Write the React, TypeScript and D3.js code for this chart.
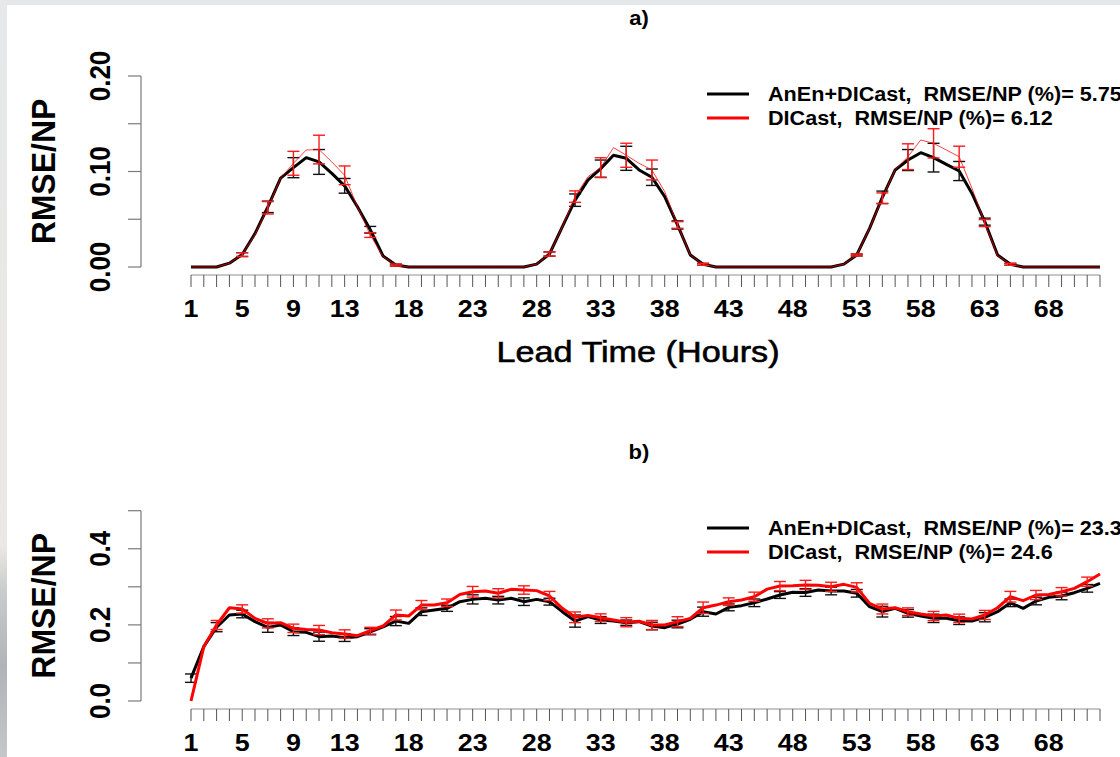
import React from 'react';
import * as d3 from 'd3';

const leadTimes = d3.range(1, 73);
const xTickLabels = [1, 5, 9, 13, 18, 23, 28, 33, 38, 43, 48, 53, 58, 63, 68];
const seriesNames = ['AnEn+DICast', 'DICast'];
const scoresA = ['5.75', '6.12'];
const scoresB = ['23.3', '24.6'];

// Panel a) values per lead time (1..72)
const anenA = [
  0, 0, 0, 0.004, 0.013, 0.035, 0.063, 0.093, 0.104, 0.1145, 0.110, 0.098, 0.085, 0.063, 0.039, 0.0115, 0.002,
  0, 0, 0, 0, 0, 0, 0, 0, 0, 0,
  0.003, 0.0136, 0.042, 0.070, 0.091, 0.103, 0.117, 0.1138, 0.1016, 0.094, 0.0737, 0.044, 0.0126, 0.0028,
  0, 0, 0, 0, 0, 0, 0, 0, 0, 0,
  0.003, 0.0126, 0.0405, 0.073, 0.1016, 0.112, 0.1197, 0.1145, 0.1075, 0.1005, 0.077, 0.0475, 0.0126, 0.0028,
  0, 0, 0, 0, 0, 0, 0,
];
const dicastA = [
  0, 0, 0, 0.004, 0.013, 0.034, 0.062, 0.093, 0.1086, 0.1225, 0.123, 0.110, 0.096, 0.063, 0.0335, 0.011, 0.002,
  0, 0, 0, 0, 0, 0, 0, 0, 0, 0,
  0.003, 0.0136, 0.042, 0.0737, 0.0945, 0.104, 0.125, 0.117, 0.1086, 0.1016, 0.0789, 0.044, 0.0126, 0.0028,
  0, 0, 0, 0, 0, 0, 0, 0, 0, 0,
  0.003, 0.0126, 0.0405, 0.072, 0.102, 0.1155, 0.133, 0.1295, 0.1225, 0.1155, 0.0824, 0.046, 0.012, 0.0028,
  0, 0, 0, 0, 0, 0, 0,
];
// error half-widths at odd lead times 1,3,...,71
const anenErrA = [
  0, 0, 0.002, 0.006, 0.0105, 0.013, 0.0077, 0.0035, 0.001, 0, 0, 0, 0, 0,
  0.0022, 0.0065, 0.009, 0.0126, 0.0086, 0.0043, 0.001, 0, 0, 0, 0, 0,
  0.001, 0.0065, 0.011, 0.015, 0.010, 0.0037, 0.001, 0, 0, 0,
];
const dicastErrA = [
  0, 0, 0.002, 0.0065, 0.0125, 0.015, 0.0098, 0.0025, 0.001, 0, 0, 0, 0, 0,
  0.0022, 0.006, 0.0104, 0.0126, 0.0104, 0.0035, 0.001, 0, 0, 0, 0, 0,
  0.001, 0.0056, 0.0135, 0.0153, 0.011, 0.0037, 0.001, 0, 0, 0,
];

// Panel b) values
const anenB = [
  0.060, 0.143, 0.194, 0.226, 0.2286, 0.2085, 0.1935, 0.1997, 0.182, 0.1805, 0.169, 0.1708, 0.1665, 0.169, 0.182, 0.195, 0.210, 0.204, 0.2347, 0.239, 0.2435, 0.261, 0.267,
  0.270, 0.265, 0.270, 0.261, 0.267, 0.261, 0.2347, 0.210, 0.2216, 0.2128, 0.210, 0.2058, 0.2085, 0.197, 0.1927, 0.2023, 0.2146, 0.2347, 0.2286, 0.246, 0.2505, 0.258, 0.268,
  0.2785, 0.2855, 0.285, 0.2916, 0.289, 0.289, 0.283, 0.248, 0.2347, 0.2435, 0.2303, 0.2233, 0.2172, 0.2172, 0.211, 0.210, 0.22, 0.2347, 0.258, 0.2435, 0.2627, 0.2724, 0.276, 0.2846, 0.296, 0.309,
];
const dicastB = [
  0.0, 0.143, 0.1997, 0.245, 0.2417, 0.217, 0.204, 0.2057, 0.191, 0.188, 0.1865, 0.1795, 0.176, 0.1716, 0.1847, 0.197, 0.226, 0.2233, 0.252, 0.252, 0.258, 0.280, 0.287,
  0.289, 0.283, 0.2934, 0.2916, 0.290, 0.276, 0.2435, 0.22, 0.225, 0.219, 0.2128, 0.207, 0.2094, 0.1997, 0.1997, 0.2085, 0.2172, 0.245, 0.252, 0.261, 0.2654, 0.274, 0.294,
  0.302, 0.303, 0.305, 0.304, 0.300, 0.3065, 0.2986, 0.2566, 0.2417, 0.245, 0.2347, 0.2286, 0.2233, 0.226, 0.2172, 0.2155, 0.226, 0.245, 0.274, 0.2636, 0.2785, 0.280, 0.287, 0.296, 0.3135, 0.3337,
];
const anenErrB = [
  0.011, 0.012, 0.010, 0.013, 0.010, 0.012, 0.010, 0.008, 0.012, 0.010, 0.008, 0.012, 0.010, 0.010, 0.009, 0.016, 0.009, 0.007,
  0.010, 0.010, 0.012, 0.009, 0.010, 0.009, 0.010, 0.010, 0.010, 0.014, 0.010, 0.011, 0.010, 0.012, 0.010, 0.010, 0.010, 0.010,
];
const dicastErrB = [
  0, 0.012, 0.011, 0.012, 0.011, 0.012, 0.011, 0.009, 0.013, 0.012, 0.010, 0.014, 0.012, 0.011, 0.012, 0.014, 0.010, 0.012,
  0.012, 0.013, 0.015, 0.010, 0.012, 0.012, 0.012, 0.012, 0.012, 0.013, 0.010, 0.012, 0.011, 0.012, 0.014, 0.012, 0.011, 0.012,
];

const yTicksA = [0, 0.05, 0.1, 0.15, 0.2];
const yLabelsA = [0, 0.1, 0.2];
const yTicksB = [0, 0.1, 0.2, 0.3, 0.4, 0.5];
const yLabelsB = [0, 0.2, 0.4];

const FONT = '"Liberation Sans", Arial, Helvetica, sans-serif';

const x = d3.scaleLinear().domain([1, 72]).range([191, 1100]);

function SText({ x: tx, y: ty, children, size, anchor = 'middle', rot = 0, sx = 1.12, weight = 'bold', thick = 0 }: any) {
  return (
    <text
      transform={`translate(${tx},${ty}) scale(${sx},1) rotate(${rot})`}
      textAnchor={anchor}
      fontSize={size}
      fontFamily={FONT}
      fontWeight={weight}
      fill="#000"
      stroke={thick ? '#000' : 'none'}
      strokeWidth={thick}
      style={{ whiteSpace: 'pre' }}
    >
      {children}
    </text>
  );
}

function Panel({ title, titleY, yDomain, yRange, yTicks, yLabels, fmt, black, red, blackErr, redErr, redWidth, redOpacity, scores, legendY, xTitle }: any) {
  const y = d3.scaleLinear().domain(yDomain).range(yRange);
  const line = d3.line<number>().x((_, i) => x(leadTimes[i])).y((d) => y(d));
  const axisY = yRange[0] + 8;
  const oddLeads = leadTimes.filter((l) => l % 2 === 1);
  const bars = (vals: number[], errs: number[], color: string, w: number) =>
    oddLeads.map((l, k) => {
      const e = errs[k];
      if (!e) return null;
      const v = vals[l - 1];
      const cx = x(l);
      const y1 = y(v + e);
      const y2 = y(v - e);
      return (
        <g key={`${color}${l}`} stroke={color} strokeWidth={w}>
          <line x1={cx} x2={cx} y1={y1} y2={y2} />
          <line x1={cx - 6} x2={cx + 6} y1={y1} y2={y1} />
          <line x1={cx - 6} x2={cx + 6} y1={y2} y2={y2} />
        </g>
      );
    });
  const fmtf = d3.format(fmt);
  return (
    <g>
      <SText x={639} y={titleY} size={20} sx={1.1}>{title}</SText>
      {/* y axis */}
      <line x1={141} x2={141} y1={y(yDomain[1])} y2={y(yDomain[0])} stroke="#7a7a7a" strokeWidth={1.2} />
      {yTicks.map((t: number) => (
        <line key={t} x1={128} x2={141} y1={y(t)} y2={y(t)} stroke="#7a7a7a" strokeWidth={1.2} />
      ))}
      {yLabels.map((t: number) => (
        <SText key={t} x={110} y={y(t)} size={26} rot={-90} sx={1.1}>{fmtf(t)}</SText>
      ))}
      <SText x={55} y={(yRange[0] + yRange[1]) / 2} size={32} rot={-90} sx={1.05}>RMSE/NP</SText>
      {/* x axis */}
      <line x1={x(1)} x2={x(72)} y1={axisY} y2={axisY} stroke="#b5b5b5" strokeWidth={1.5} />
      {leadTimes.map((l) => (
        <line key={l} x1={x(l)} x2={x(l)} y1={axisY} y2={axisY + 12} stroke="#555" strokeWidth={1} />
      ))}
      {xTickLabels.map((l) => (
        <SText key={l} x={x(l)} y={axisY + 42} size={24}>{String(l)}</SText>
      ))}
      {xTitle ? <SText x={638} y={axisY + 87} size={30} sx={1.14} weight="normal" thick={0.6}>{xTitle}</SText> : null}
      {/* series */}
      <path d={line(black) || ''} fill="none" stroke="#000" strokeWidth={3} strokeLinejoin="round" />
      {bars(black, blackErr, '#111', 1.4)}
      <path d={line(red) || ''} fill="none" stroke="#ff0000" strokeOpacity={redOpacity} strokeWidth={redWidth} strokeLinejoin="round" />
      {bars(red, redErr, '#ff1a1a', 1.4)}
      {/* legend */}
      {seriesNames.map((n, i) => (
        <g key={n}>
          <line x1={707} x2={749} y1={legendY + i * 24} y2={legendY + i * 24} stroke={i === 0 ? '#000' : '#ff0000'} strokeWidth={3} />
          <SText x={768} y={legendY + i * 24 + 7} size={21} anchor="start" sx={1.03}>{`${n},  RMSE/NP (%)= ${scores[i]}`}</SText>
        </g>
      ))}
    </g>
  );
}

export default function App() {
  return (
    <svg width={1120} height={757} style={{ position: 'absolute', left: 0, top: 0, background: '#fff' }}>
      <defs>
        <linearGradient id="edge" x1="0" y1="0" x2="0" y2="1">
          <stop offset="0" stopColor="#e6e8e9" />
          <stop offset="0.72" stopColor="#ebe9e5" />
          <stop offset="0.78" stopColor="#c9cbcc" />
          <stop offset="0.88" stopColor="#b0b4b8" />
          <stop offset="1" stopColor="#c4c7ca" />
        </linearGradient>
      </defs>
      <rect x={0} y={0} width={1120} height={757} fill="#fff" />
      <rect x={0} y={0} width={1120} height={5} fill="#e4e7e9" />
      <rect x={0} y={0} width={7} height={757} fill="url(#edge)" />
      <Panel
        title="a)"
        titleY={25}
        yDomain={[0, 0.2]}
        yRange={[267, 76]}
        yTicks={yTicksA}
        yLabels={yLabelsA}
        fmt=".2f"
        black={anenA}
        red={dicastA}
        blackErr={anenErrA}
        redErr={dicastErrA}
        redWidth={1}
        redOpacity={0.75}
        scores={scoresA}
        legendY={94}
        xTitle="Lead Time (Hours)"
      />
      <Panel
        title="b)"
        titleY={459}
        yDomain={[0, 0.5]}
        yRange={[701, 510.7]}
        yTicks={yTicksB}
        yLabels={yLabelsB}
        fmt=".1f"
        black={anenB}
        red={dicastB}
        blackErr={anenErrB}
        redErr={dicastErrB}
        redWidth={3}
        redOpacity={1}
        scores={scoresB}
        legendY={528}
        xTitle={null}
      />
    </svg>
  );
}
